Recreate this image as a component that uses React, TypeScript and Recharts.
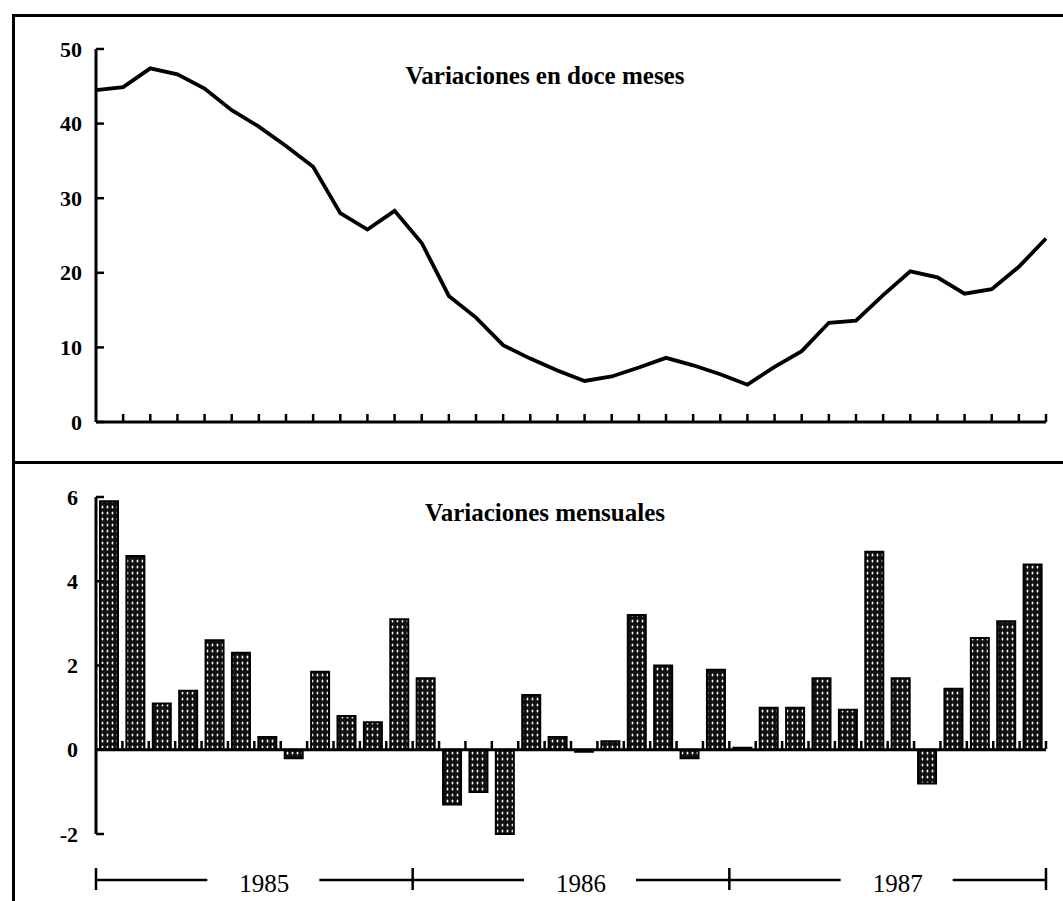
import { LineChart, Line, BarChart, Bar, XAxis, YAxis, ReferenceLine } from 'recharts'

const anios = ['1985', '1986', '1987']
const meses = ['Ene', 'Feb', 'Mar', 'Abr', 'May', 'Jun', 'Jul', 'Ago', 'Sep', 'Oct', 'Nov', 'Dic']

// variaciones en doce meses (%)
const doceMeses = [
  44.5, 44.9, 47.4, 46.6, 44.7, 41.8, 39.6, 37.0, 34.2, 28.0, 25.8, 28.3,
  24.0, 16.9, 14.0, 10.3, 8.5, 6.9, 5.5, 6.1, 7.3, 8.6, 7.6, 6.4,
  5.0, 7.4, 9.5, 13.3, 13.6, 17.0, 20.2, 19.4, 17.2, 17.8, 20.8, 24.6,
]

// variaciones mensuales (%)
const mensuales = [
  5.9, 4.6, 1.1, 1.4, 2.6, 2.3, 0.3, -0.2, 1.85, 0.8, 0.65, 3.1,
  1.7, -1.3, -1.0, -2.0, 1.3, 0.3, -0.05, 0.2, 3.2, 2.0, -0.2, 1.9,
  0.05, 1.0, 1.0, 1.7, 0.95, 4.7, 1.7, -0.8, 1.45, 2.65, 3.05, 4.4,
]

const ticksDoce = [0, 10, 20, 30, 40, 50]
const ticksMens = [-2, 0, 2, 4, 6]
const ticksAnio = [0, 6, 12, 18, 24, 30, 36]

const serif = '"Liberation Serif", "DejaVu Serif", serif'

const rows = doceMeses.map((v, i) => ({
  i,
  mes: `${meses[i % 12]} ${anios[Math.floor(i / 12)]}`,
  doce: v,
  mensual: mensuales[i],
}))
const limitesMes = [...rows.map((r) => r.i), rows.length]

function TickY({ x, y, payload, gap }: any) {
  return (
    <g>
      <line x1={x} x2={x + 8} y1={y} y2={y} stroke="#000" strokeWidth={2.5} />
      <text x={x - gap} y={y} textAnchor="end" dominantBaseline="central"
        fontFamily={serif} fontWeight="bold" fontSize={22} fill="#000">
        {payload.value}
      </text>
    </g>
  )
}

function TickMes({ x, y, payload }: any) {
  if (payload.value === 0) return <g />
  return <line x1={x} x2={x} y1={y} y2={y - 8} stroke="#000" strokeWidth={2.5} />
}

function TickAnio({ x, y, payload }: any) {
  const v = payload.value
  if (v % 12 === 0) {
    return <line x1={x} x2={x} y1={y - 12} y2={y + 10} stroke="#000" strokeWidth={2.5} />
  }
  return (
    <g>
      <rect x={x - 47} y={y - 5} width={112} height={10} fill="#fff" />
      <text x={x + 10} y={y + 3} textAnchor="middle" dominantBaseline="central"
        fontFamily={serif} fontSize={25} fill="#000">
        {anios[(v - 6) / 12]}
      </text>
    </g>
  )
}

const titulo: any = {
  position: 'absolute', transform: 'translate(-50%, -50%)', fontFamily: serif,
  fontWeight: 'bold', fontSize: 25, whiteSpace: 'nowrap', color: '#000',
}

export default function App() {
  return (
    <div style={{ position: 'absolute', left: 0, top: 0, width: 1063, height: 901, background: '#fff', overflow: 'hidden' }}>
      <div style={{ position: 'absolute', left: 12, top: 14, width: 3, height: 887, background: '#000' }} />
      <div style={{ position: 'absolute', left: 12, top: 14, width: 1051, height: 3, background: '#000' }} />
      <div style={{ position: 'absolute', left: 12, top: 461, width: 1051, height: 3, background: '#000' }} />

      {/* doce meses */}
      <div style={{ position: 'absolute', left: 0, top: 0 }}>
        <LineChart width={1063} height={460} data={rows} margin={{ top: 49, right: 17, bottom: 18, left: 36 }}>
          <XAxis dataKey="i" type="number" domain={[0, 35]} ticks={rows.map((r) => r.i)}
            height={20} tickSize={0} tickMargin={0} tickLine={false}
            axisLine={{ stroke: '#000', strokeWidth: 3 }} tick={<TickMes />} interval={0} />
          <YAxis domain={[0, 50]} ticks={ticksDoce} width={60} tickSize={0} tickMargin={0}
            tickLine={false} axisLine={{ stroke: '#000', strokeWidth: 3 }} tick={<TickY gap={14} />} />
          <Line type="linear" dataKey="doce" stroke="#000" strokeWidth={3.8} dot={false} isAnimationActive={false} />
        </LineChart>
      </div>
      <div style={{ ...titulo, left: 545, top: 76 }}>Variaciones en doce meses</div>

      {/* mensuales */}
      <div style={{ position: 'absolute', left: 0, top: 462 }}>
        <BarChart width={1063} height={439} data={rows} margin={{ top: 35, right: 17, bottom: 67, left: 36 }}>
          <defs>
            <pattern id="tejido" width="5" height="6" patternUnits="userSpaceOnUse">
              <rect width="5" height="6" fill="#111" />
              <ellipse cx="2.5" cy="3" rx="0.9" ry="1.6" fill="#fff" />
            </pattern>
          </defs>
          <XAxis dataKey="mes" hide />
          <YAxis domain={[-2, 6]} ticks={ticksMens} width={60} tickSize={0} tickMargin={0}
            tickLine={false} axisLine={{ stroke: '#000', strokeWidth: 3 }} tick={<TickY gap={18} />} />
          <ReferenceLine y={0} stroke="#000" strokeWidth={3} />
          <Bar dataKey="mensual" barSize={18} fill="url(#tejido)" stroke="#000" strokeWidth={2}
            isAnimationActive={false} />
        </BarChart>
      </div>
      <div style={{ ...titulo, left: 545, top: 513 }}>Variaciones mensuales</div>

      {/* marcas de mes sobre la linea de cero */}
      <div style={{ position: 'absolute', left: 0, top: 729 }}>
        <LineChart width={1063} height={40} data={rows} margin={{ top: 20, right: 17, bottom: 0, left: 96 }}>
          <XAxis dataKey="i" type="number" domain={[0, 36]} ticks={limitesMes} allowDataOverflow
            height={20} tickSize={0} tickMargin={0} tickLine={false} interval={0}
            axisLine={false} tick={<TickMes />} />
        </LineChart>
      </div>

      {/* años */}
      <div style={{ position: 'absolute', left: 0, top: 860 }}>
        <LineChart width={1063} height={40} data={rows} margin={{ top: 0, right: 17, bottom: 0, left: 96 }}>
          <XAxis dataKey="i" type="number" domain={[0, 36]} ticks={ticksAnio} allowDataOverflow
            height={20} tickSize={0} tickMargin={0} tickLine={false} interval={0}
            axisLine={{ stroke: '#000', strokeWidth: 2.5 }} tick={<TickAnio />} />
        </LineChart>
      </div>
    </div>
  )
}
